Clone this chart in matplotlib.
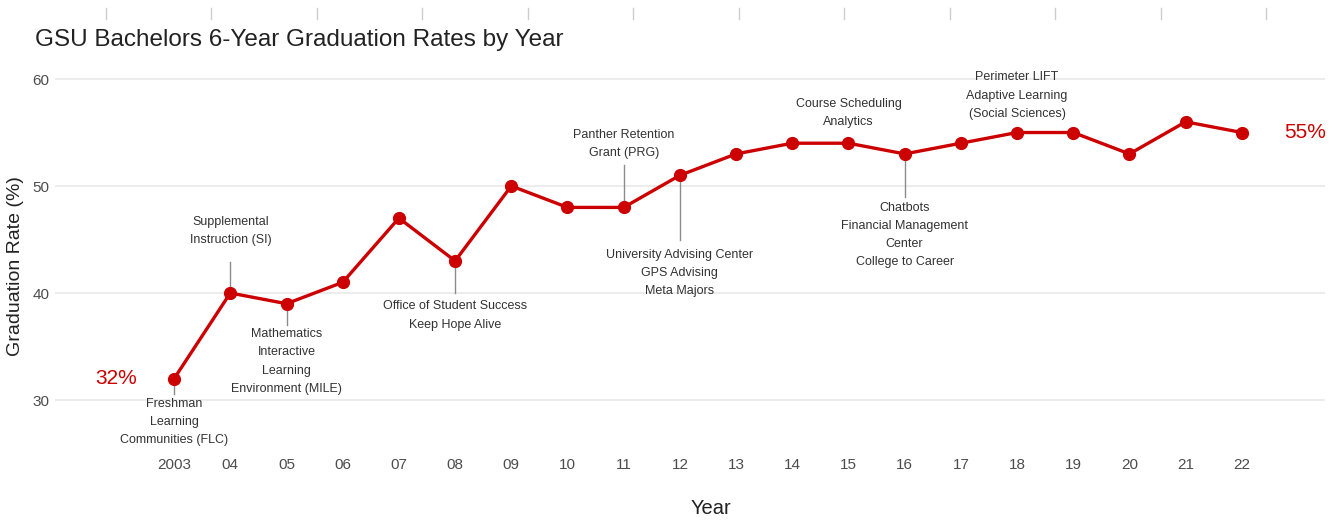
import matplotlib
matplotlib.use("Agg")
import matplotlib.pyplot as plt
from matplotlib.lines import Line2D
import numpy as np

plt.rcParams['font.family'] = ['Liberation Sans', 'DejaVu Sans']

years = [2003, 2004, 2005, 2006, 2007, 2008, 2009, 2010, 2011, 2012,
         2013, 2014, 2015, 2016, 2017, 2018, 2019, 2020, 2021, 2022]
rates = [32, 40, 39, 41, 47, 43, 50, 48, 48, 51,
         53, 54, 54, 53, 54, 55, 55, 53, 56, 55]
tick_labels = ['2003', '04', '05', '06', '07', '08', '09', '10', '11', '12',
               '13', '14', '15', '16', '17', '18', '19', '20', '21', '22']

# initiatives: year, text, segment end, text anchor y, side
ann_years = [2003, 2004, 2005, 2008, 2011, 2012, 2015, 2016, 2018]
ann_texts = [
    "Freshman\nLearning\nCommunities (FLC)",
    "Supplemental\nInstruction (SI)",
    "Mathematics\nInteractive\nLearning\nEnvironment (MILE)",
    "Office of Student Success\nKeep Hope Alive",
    "Panther Retention\nGrant (PRG)",
    "University Advising Center\nGPS Advising\nMeta Majors",
    "Course Scheduling\nAnalytics",
    "Chatbots\nFinancial Management\nCenter\nCollege to Career",
    "Perimeter LIFT\nAdaptive Learning\n(Social Sciences)",
]
ann_seg_end = [30.6, 42.9, 37.0, 40.0, 52.0, 45.0, 54.4, 49.0, 55.5]
ann_text_y = [30.2, 44.4, 36.7, 39.3, 52.5, 44.1, 55.4, 48.5, 56.2]
ann_side = ['below', 'above', 'below', 'below', 'above', 'below', 'above', 'below', 'above']

RED = '#CC0000'

fig = plt.figure(figsize=(13.37, 5.23), dpi=100)
ax = fig.add_axes([55/1337, 1-452/523, (1325-55)/1337, (452-65)/523])

ax.set_xlim(2000.88, 2023.48)
ax.set_ylim(25.14, 61.31)

for v in [30, 40, 50, 60]:
    ax.axhline(v, color='#ebebeb', lw=1.3, zorder=0)

for yr, txt, se, ty, side in zip(ann_years, ann_texts, ann_seg_end, ann_text_y, ann_side):
    r = rates[years.index(yr)]
    ax.plot([yr, yr], [r, se], color='#8c8c8c', lw=1.0, zorder=1)
    ax.text(yr, ty, txt, ha='center', va='top' if side == 'below' else 'bottom',
            fontsize=9, color='#333333', linespacing=1.68, zorder=3)

ax.plot(years, rates, color=RED, lw=2.4, marker='o', markersize=8.5, zorder=2)

ax.text(years[0] - 1.03, rates[0], f"{rates[0]}%", color=RED, fontsize=15,
        ha='center', va='center')
ax.text(years[-1] + 1.12, rates[-1], f"{rates[-1]}%", color=RED, fontsize=15,
        ha='center', va='center')

ax.set_xticks(years)
ax.set_xticklabels(tick_labels)
ax.set_yticks([30, 40, 50, 60])
ax.tick_params(axis='both', length=0, labelsize=11, labelcolor='#4d4d4d', pad=4)
for s in ax.spines.values():
    s.set_visible(False)

ax.set_xlabel("Year", fontsize=14.5, color='#222222')
ax.set_ylabel("Graduation Rate (%)", fontsize=14, color='#222222')
ax.xaxis.set_label_coords((711-55)/1270, -(509-452)/387)
ax.yaxis.set_label_coords(-(55-16)/1270, 1-(266-65)/387)
ax.xaxis.label.set_va('center')
ax.yaxis.label.set_va('center')

fig.text(35/1337, 1-40/523, "GSU Bachelors 6-Year Graduation Rates by Year",
         fontsize=17.5, color='#222222', ha='left', va='center')

# decorative tick marks along the top edge
for px in np.arange(106, 1300, 105.45):
    fig.add_artist(Line2D([px/1337, px/1337], [1-8/523, 1-19/523],
                          color='#cccccc', lw=1.0))

fig.savefig("out.png", dpi=100, facecolor='white')
